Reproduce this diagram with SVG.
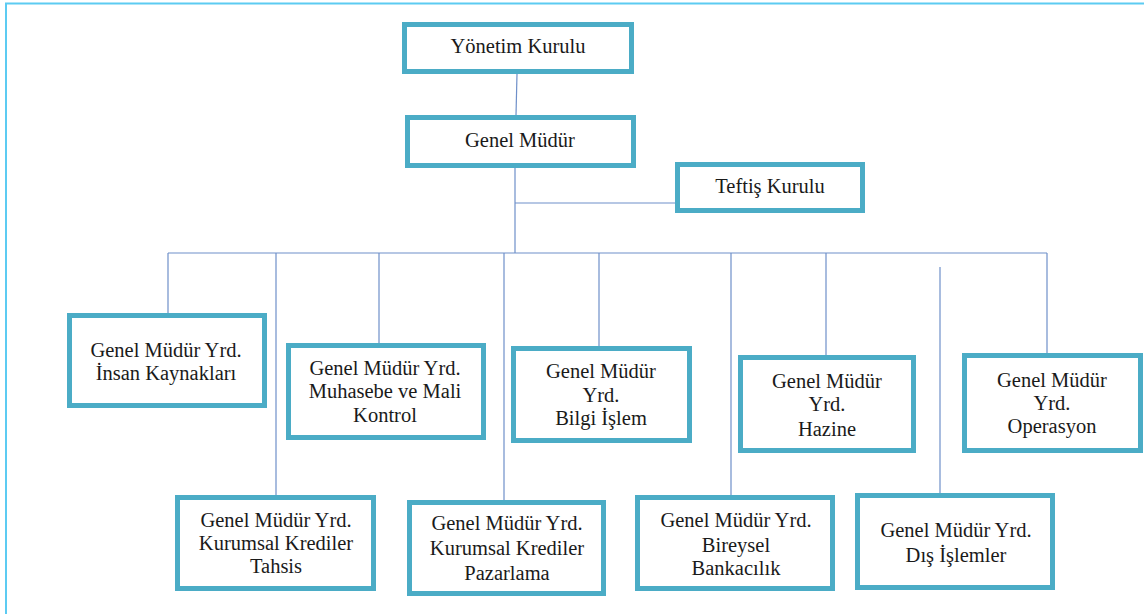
<svg xmlns="http://www.w3.org/2000/svg" width="1144" height="614" viewBox="0 0 1144 614">
<style>
.box{fill:#fff;stroke:#4BACC6;stroke-width:5}
.t{font-family:"Liberation Serif",Tinos,"Noto Serif","DejaVu Serif",Georgia,"Times New Roman",Times,serif;font-size:20.5px;fill:#1a1a1a;text-anchor:middle}
.c{stroke:#6E8FC9;stroke-width:1.2;fill:none}
.frame{stroke:#5CCBF2;stroke-width:2;fill:none}
</style>
<rect width="1144" height="614" fill="#fff"/>
<path class="frame" d="M6,614 V3.5 H1144"/>
<g id="connectors">
<path class="c" d="M517,74 L516,115"/>
<path class="c" d="M515,168 V253"/>
<path class="c" d="M515,203 H675"/>
<path class="c" d="M168,253 H1047"/>
<path class="c" d="M168,253 V313"/>
<path class="c" d="M276,253 V495"/>
<path class="c" d="M379,253 V343"/>
<path class="c" d="M504,253 V500"/>
<path class="c" d="M599,253 V346"/>
<path class="c" d="M731,253 V495"/>
<path class="c" d="M826,253 V355"/>
<path class="c" d="M940,267 V493"/>
<path class="c" d="M1047,253 V353"/>
</g>
<g id="yonetim"><rect class="box" x="404.5" y="24.5" width="227" height="47"/><text class="t" x="518" y="53">Yönetim Kurulu</text></g>
<g id="genel"><rect class="box" x="407.5" y="117.5" width="226" height="48"/><text class="t" x="520" y="147">Genel Müdür</text></g>
<g id="teftis"><rect class="box" x="677.5" y="164.5" width="185" height="46"/><text class="t" x="770" y="193">Teftiş Kurulu</text></g>
<g id="insan"><rect class="box" x="69.5" y="315.5" width="195" height="90"/><text class="t" x="166" y="357">Genel Müdür Yrd.</text><text class="t" x="166" y="380">İnsan Kaynakları</text></g>
<g id="muhasebe"><rect class="box" x="288.5" y="345.5" width="195" height="92"/><text class="t" x="385" y="375">Genel Müdür Yrd.</text><text class="t" x="385" y="398">Muhasebe ve Mali</text><text class="t" x="385" y="422">Kontrol</text></g>
<g id="bilgi"><rect class="box" x="513.5" y="348.5" width="176" height="92"/><text class="t" x="601" y="378">Genel Müdür</text><text class="t" x="601" y="402">Yrd.</text><text class="t" x="601" y="425">Bilgi İşlem</text></g>
<g id="hazine"><rect class="box" x="740.5" y="357.5" width="173" height="93"/><text class="t" x="827" y="388">Genel Müdür</text><text class="t" x="827" y="411">Yrd.</text><text class="t" x="827" y="436">Hazine</text></g>
<g id="operasyon"><rect class="box" x="964.5" y="355.5" width="176" height="95"/><text class="t" x="1052" y="387">Genel Müdür</text><text class="t" x="1052" y="410">Yrd.</text><text class="t" x="1052" y="433">Operasyon</text></g>
<g id="tahsis"><rect class="box" x="177.5" y="497.5" width="196" height="91"/><text class="t" x="276" y="527">Genel Müdür Yrd.</text><text class="t" x="276" y="550">Kurumsal Krediler</text><text class="t" x="276" y="573">Tahsis</text></g>
<g id="pazarlama"><rect class="box" x="409.5" y="502.5" width="194" height="91"/><text class="t" x="507" y="530">Genel Müdür Yrd.</text><text class="t" x="507" y="555">Kurumsal Krediler</text><text class="t" x="507" y="580">Pazarlama</text></g>
<g id="bireysel"><rect class="box" x="637.5" y="497.5" width="195" height="91"/><text class="t" x="736" y="527">Genel Müdür Yrd.</text><text class="t" x="736" y="552">Bireysel</text><text class="t" x="736" y="575">Bankacılık</text></g>
<g id="dis"><rect class="box" x="857.5" y="495.5" width="195" height="92"/><text class="t" x="956" y="537">Genel Müdür Yrd.</text><text class="t" x="956" y="562">Dış İşlemler</text></g>
</svg>
